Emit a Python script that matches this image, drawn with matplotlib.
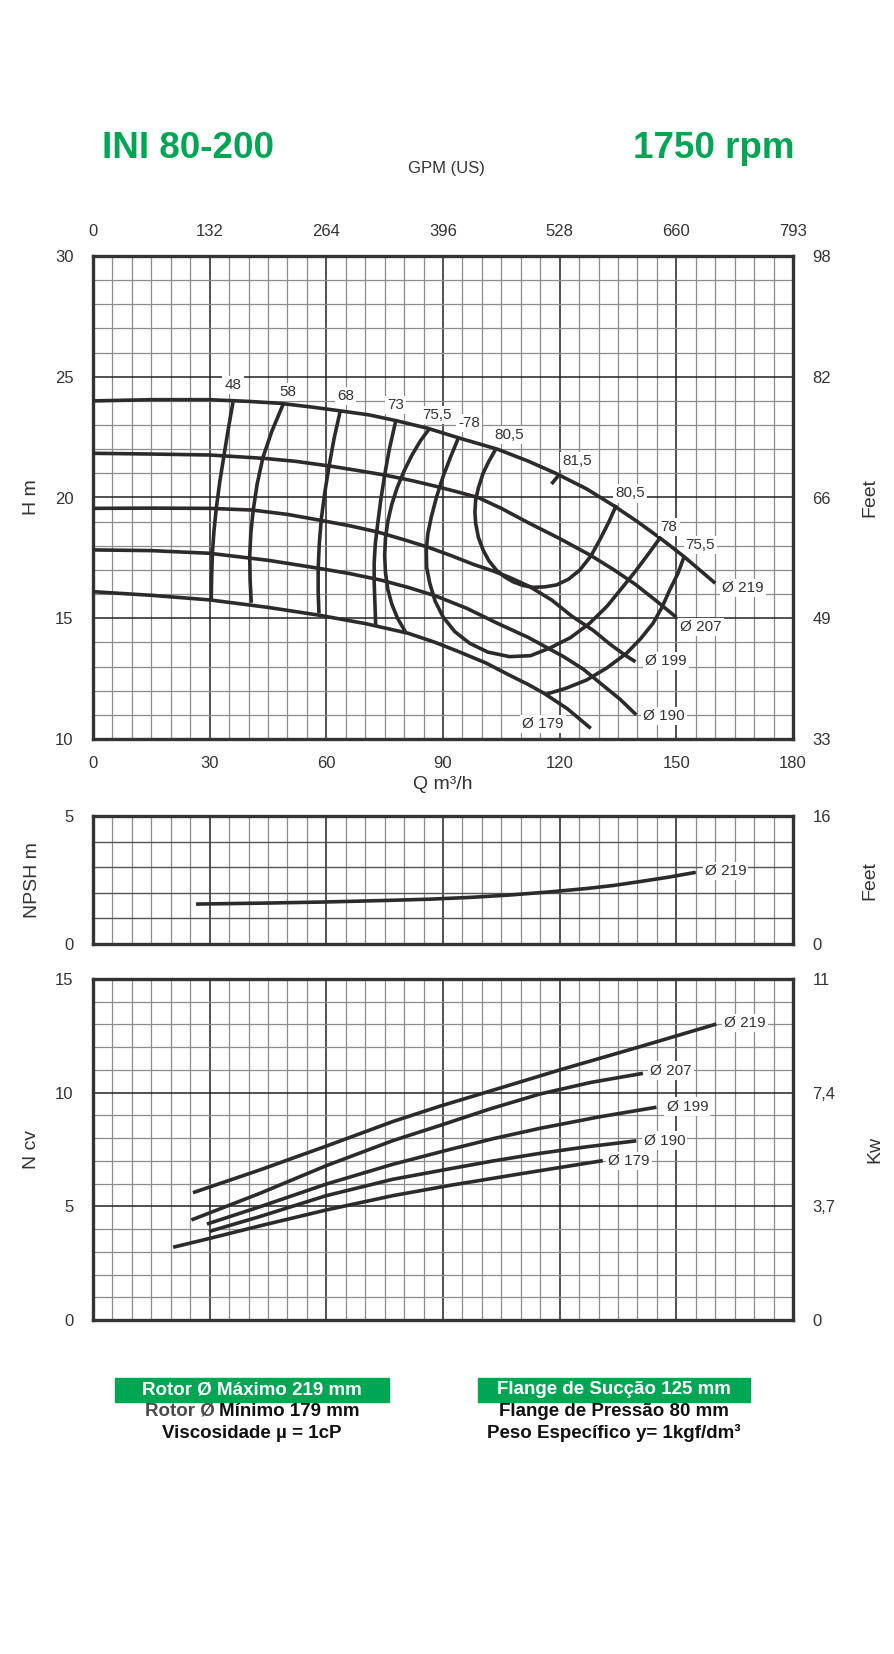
import matplotlib
matplotlib.use('Agg')
import matplotlib.pyplot as plt
from matplotlib import font_manager
from matplotlib.patches import Rectangle

plt.rcParams['font.family'] = ['Liberation Sans', 'DejaVu Sans']

# fonte condensada se existir, senao Liberation Sans um pouco menor
nomes = {f.name for f in font_manager.fontManager.ttflist}
if 'Liberation Sans Narrow' in nomes:
	NARROW = ['Liberation Sans Narrow', 'DejaVu Sans']
	TIT, RODAPE = 30, 14.5
else:
	NARROW = ['Liberation Sans', 'DejaVu Sans']
	TIT, RODAPE = 26.5, 13.5

# ---- altura x vazao (rotores) ----
q219 = [0, 15, 30, 40, 48, 56, 63, 71, 78, 86, 94, 104, 112, 119, 127, 134, 140, 146, 152, 160]
h219 = [24.0, 24.05, 24.05, 23.98, 23.9, 23.75, 23.6, 23.42, 23.18, 22.87, 22.47, 22.0, 21.5, 21.0,
		20.35, 19.65, 19.0, 18.3, 17.55, 16.45]
q207 = [0, 15, 30, 44, 52, 61, 68, 75, 82, 88, 94, 99, 105, 112, 120, 128, 134, 139.5, 145, 150]
h207 = [21.83, 21.8, 21.76, 21.62, 21.5, 21.3, 21.12, 20.93, 20.7, 20.47, 20.22, 20.0, 19.55, 18.95,
		18.3, 17.6, 17.0, 16.4, 15.7, 15.04]
q199 = [0, 15, 30, 41, 50, 58, 66, 73, 80, 86, 92, 98, 103, 107, 112.3, 118, 123, 128.6, 133, 137, 139.5]
h199 = [19.55, 19.56, 19.55, 19.48, 19.3, 19.07, 18.83, 18.58, 18.25, 17.95, 17.6, 17.22, 16.95, 16.7,
		16.31, 15.75, 15.1, 14.5, 13.92, 13.45, 13.2]
q190 = [0, 15, 30, 45, 58, 66, 74, 81, 88, 96, 104, 112, 121, 126, 131, 135.5, 139.7]
h190 = [17.83, 17.8, 17.69, 17.4, 17.07, 16.85, 16.58, 16.28, 15.93, 15.42, 14.79, 14.2, 13.41, 12.9,
		12.24, 11.65, 11.0]
q179 = [0, 15, 30, 45, 58, 70, 81, 88, 94, 101, 107, 112, 116, 122, 128]
h179 = [16.1, 15.95, 15.76, 15.45, 15.13, 14.78, 14.38, 14.0, 13.62, 13.15, 12.65, 12.25, 11.89, 11.25, 10.44]

rotores = ['Ø 219', 'Ø 207', 'Ø 199', 'Ø 190', 'Ø 179']
rot_lbl_q = [161.8, 151.0, 142.0, 141.5, 110.3]
rot_lbl_h = [16.24, 14.65, 13.23, 10.95, 10.62]

# ---- curvas de rendimento ----
e48_q = [36, 34.8, 33.7, 32.6, 31.7, 31.1, 30.7, 30.5, 30.4]
e48_h = [23.95, 22.85, 21.76, 20.65, 19.55, 18.6, 17.69, 16.7, 15.76]
e58_q = [49.0, 46.0, 43.7, 42.2, 41.2, 40.6, 40.3, 40.4, 40.7]
e58_h = [23.9, 22.75, 21.66, 20.55, 19.48, 18.55, 17.6, 16.6, 15.64]
e68_q = [63.6, 62.0, 60.7, 59.6, 58.7, 58.2, 57.9, 57.9, 58.1]
e68_h = [23.6, 22.45, 21.3, 20.2, 19.1, 18.1, 17.07, 16.1, 15.2]
e73_q = [77.8, 76.2, 75.0, 74.0, 73.2, 72.6, 72.3, 72.3, 72.5, 72.7]
e73_h = [23.14, 22.0, 20.93, 19.9, 18.9, 18.1, 17.3, 16.5, 15.6, 14.68]
e755a_q = [86.6, 84.2, 82.0, 80.0, 78.2, 76.8, 75.8, 75.2, 75.0, 75.2, 75.8, 76.8, 78.3, 80.4]
e755a_h = [22.87, 22.35, 21.75, 21.1, 20.4, 19.7, 19.0, 18.3, 17.6, 16.9, 16.2, 15.6, 15.0, 14.42]
e78_q = [94.1, 92.0, 90.0, 88.3, 87.0, 86.1, 85.7, 85.8, 86.6, 88.0, 90.0, 93.0, 96.9, 101.5, 107.1,
		 112.5, 117.4, 122.8, 127.7, 132.2, 136.3, 139.5, 142.3, 145.7]
e78_h = [22.52, 21.7, 20.86, 20.0, 19.2, 18.5, 17.83, 17.1, 16.45, 15.7, 15.06, 14.45, 13.96, 13.6,
		 13.41, 13.45, 13.76, 14.2, 14.79, 15.5, 16.31, 16.95, 17.55, 18.3]
e805_q = [103.7, 101.8, 100.3, 99.1, 98.4, 98.2, 98.4, 99.1, 100.3, 101.8, 103.7, 105.8, 108.0, 110.5,
		  113.1, 116.2, 119.2, 122.3, 125.2, 128.0, 130.3, 132.6, 134.6]
e805_h = [22.04, 21.5, 21.0, 20.4, 19.9, 19.4, 18.93, 18.35, 17.83, 17.38, 17.0, 16.72, 16.51, 16.36,
		  16.28, 16.3, 16.38, 16.62, 17.0, 17.57, 18.24, 18.97, 19.69]
e815_q = [117.9, 120.0]
e815_h = [20.56, 20.97]
e755b_q = [152.0, 150.4, 148.3, 146.3, 144.0, 140.8, 137.2, 132.2, 126.9, 121.6, 116.6]
e755b_h = [17.55, 16.85, 16.17, 15.45, 14.79, 14.15, 13.55, 12.95, 12.44, 12.1, 11.86]

rend_txt = ['48', '58', '68', '73', '75,5', '-78', '80,5', '81,5', '80,5', '78', '75,5']
rend_q = [36, 50.1, 65, 77.8, 88.4, 96.7, 107.1, 124.4, 138.2, 148.1, 156.2]
rend_h = [24.66, 24.38, 24.2, 23.83, 23.42, 23.07, 22.59, 21.52, 20.17, 18.79, 18.03]

# ---- NPSH ----
npsh_q = [26.5, 45, 59.3, 75, 86.4, 97, 106.8, 117, 127.1, 134, 140.7, 148, 155.0]
npsh_v = [1.56, 1.6, 1.64, 1.7, 1.75, 1.82, 1.91, 2.03, 2.17, 2.29, 2.44, 2.61, 2.8]

# ---- potencia ----
pq219 = [25.7, 42.9, 60, 77.1, 89.1, 105, 120, 140.6, 160.3]
pv219 = [5.6, 6.6, 7.65, 8.73, 9.4, 10.22, 11.0, 12.02, 13.02]
pq207 = [25.3, 42.9, 60, 77.1, 89.1, 102, 114.9, 128, 141.4]
pv207 = [4.4, 5.57, 6.79, 7.89, 8.55, 9.28, 9.94, 10.45, 10.85]
pq199 = [29.3, 42.9, 60, 77.1, 91.7, 103, 114.9, 130, 144.9]
pv199 = [4.22, 4.98, 5.98, 6.85, 7.5, 7.98, 8.43, 8.93, 9.36]
pq190 = [29.8, 42.9, 60, 77.1, 91.7, 103, 114.9, 127, 139.7]
pv190 = [3.89, 4.55, 5.47, 6.19, 6.65, 7.0, 7.33, 7.62, 7.88]
pq179 = [20.6, 30, 42.9, 60, 77.1, 91.7, 110.6, 131.1]
pv179 = [3.2, 3.59, 4.14, 4.84, 5.47, 5.92, 6.45, 7.01]

pot_lbl_q = [162.2, 143.3, 147.5, 141.6, 132.5]
pot_lbl_v = [13.05, 10.97, 9.39, 7.89, 7.01]

# eixos auxiliares
gpm = ['0', '132', '264', '396', '528', '660', '793']
feet_h = ['33', '49', '66', '82', '98']
kw = ['0', '3,7', '7,4', '11']

CURVA = '#2d2a2b'
VERDE = '#00a651'
W, H = 895.0, 1654.0


def box(left, top, right, bottom):
	return [left / W, 1 - bottom / H, (right - left) / W, (bottom - top) / H]


def grade(ax, ymin, ymax, ystep_major):
	ax.set_xlim(0, 180)
	ax.set_ylim(ymin, ymax)
	ax.set_xticks(range(0, 181, 30))
	ax.set_xticks(range(0, 181, 5), minor=True)
	ax.set_yticks(range(ymin, ymax + 1, ystep_major))
	ax.set_yticks(range(ymin, ymax + 1, 1), minor=True)
	ax.grid(which='major', color='#222222', lw=1.1)
	ax.grid(which='minor', color='#8c8c8c', lw=0.9)
	ax.set_axisbelow(True)
	ax.tick_params(which='both', length=0, labelsize=12, colors='#333333')
	ax.tick_params(axis='y', pad=14)
	for s in ax.spines.values():
		s.set_linewidth(2.4)
		s.set_color('#333333')


def eixo_dir(ax, ylim, ticks, labels, nome):
	a = ax.twinx()
	a.set_ylim(*ylim)
	a.set_yticks(ticks)
	a.set_yticklabels(labels)
	a.tick_params(length=0, labelsize=12, pad=14, colors='#333333')
	a.set_ylabel(nome, fontsize=14, labelpad=22, color='#333333')
	for s in a.spines.values():
		s.set_visible(False)
	return a


def rotulo(ax, x, y, s, ha='left'):
	ax.text(x, y, s, fontsize=11, ha=ha, va='center', color='#333333',
			bbox=dict(facecolor='white', edgecolor='none', pad=1.5), zorder=4)


fig = plt.figure(figsize=(W / 100, H / 100), dpi=100)

# ================= H x Q =================
ax = fig.add_axes(box(93, 256, 793, 739))
grade(ax, 10, 30, 5)
ax.tick_params(axis='x', pad=12)
for q, h in [(q219, h219), (q207, h207), (q199, h199), (q190, h190), (q179, h179)]:
	ax.plot(q, h, color=CURVA, lw=2.6, solid_joinstyle='round', solid_capstyle='butt', zorder=3)
for q, h in [(e48_q, e48_h), (e58_q, e58_h), (e68_q, e68_h), (e73_q, e73_h),
			 (e755a_q, e755a_h), (e78_q, e78_h), (e805_q, e805_h), (e815_q, e815_h),
			 (e755b_q, e755b_h)]:
	ax.plot(q, h, color=CURVA, lw=2.6, solid_joinstyle='round', solid_capstyle='butt', zorder=3)
for t, x, y in zip(rend_txt, rend_q, rend_h):
	rotulo(ax, x, y, t, ha='center')
for t, x, y in zip(rotores, rot_lbl_q, rot_lbl_h):
	rotulo(ax, x, y, t)
ax.set_xlabel('Q m³/h', fontsize=14, labelpad=4, color='#333333')
ax.set_ylabel('H m', fontsize=14, labelpad=11, color='#333333')

ax_t = ax.twiny()
ax_t.set_xlim(0, 180)
ax_t.set_xticks(range(0, 181, 30))
ax_t.set_xticklabels(gpm)
ax_t.tick_params(length=0, labelsize=12, pad=12, colors='#333333')
for s in ax_t.spines.values():
	s.set_visible(False)
eixo_dir(ax, (10, 30), range(10, 31, 5), feet_h, 'Feet')

# ================= NPSH =================
ax2 = fig.add_axes(box(93, 816, 793, 944))
grade(ax2, 0, 5, 5)
ax2.grid(which='minor', axis='y', color='#555555', lw=1.0)
ax2.tick_params(axis='x', labelbottom=False)
ax2.plot(npsh_q, npsh_v, color=CURVA, lw=2.6, solid_capstyle='butt', zorder=3)
rotulo(ax2, 157.3, 2.84, 'Ø 219')
ax2.set_ylabel('NPSH m', fontsize=14, labelpad=17, color='#333333')
eixo_dir(ax2, (0, 5), [0, 5], ['0', '16'], 'Feet')

# ================= Potencia =================
ax3 = fig.add_axes(box(93, 979, 793, 1320))
grade(ax3, 0, 15, 5)
ax3.tick_params(axis='x', labelbottom=False)
for q, v in [(pq219, pv219), (pq207, pv207), (pq199, pv199), (pq190, pv190), (pq179, pv179)]:
	ax3.plot(q, v, color=CURVA, lw=2.6, solid_joinstyle='round', solid_capstyle='butt', zorder=3)
for t, x, y in zip(rotores, pot_lbl_q, pot_lbl_v):
	rotulo(ax3, x, y, t)
ax3.set_ylabel('N cv', fontsize=14, labelpad=11, color='#333333')
eixo_dir(ax3, (0, 15), [0, 5, 10, 15], kw, 'Kw')

# ================= textos =================
fig.text(102 / W, 1 - 148 / H, 'INI 80-200', family=NARROW, fontsize=TIT, fontweight='bold',
		 color=VERDE, ha='left', va='center')
fig.text(795 / W, 1 - 148 / H, '1750 rpm', family=NARROW, fontsize=TIT, fontweight='bold',
		 color=VERDE, ha='right', va='center')
fig.text(446 / W, 1 - 169 / H, 'GPM (US)', family=NARROW, fontsize=12, color='#333333',
		 ha='center', va='center')

fig.patches.append(Rectangle((115 / W, 1 - 1402 / H), 274 / W, 24 / H,
							 transform=fig.transFigure, color=VERDE, zorder=0))
fig.patches.append(Rectangle((478 / W, 1 - 1402 / H), 272 / W, 24 / H,
							 transform=fig.transFigure, color=VERDE, zorder=0))
col1 = ['Rotor Ø Máximo 219 mm', None, 'Viscosidade µ = 1cP']
col2 = ['Flange de Sucção 125 mm', 'Flange de Pressão 80 mm', 'Peso Específico y= 1kgf/dm³']
estilo = dict(family=NARROW, fontsize=RODAPE, fontweight='bold', va='center')
for i, (a, b) in enumerate(zip(col1, col2)):
	cor = 'white' if i == 0 else '#111111'
	y = 1 - (1390 + 21.5 * i) / H
	if a:
		fig.text(252 / W, y, a, color=cor, ha='center', **estilo)
	fig.text(614 / W, y, b, color=cor, ha='center', **estilo)

# linha 2 da coluna 1: "Rotor Ø" em cinza, resto em preto
y2 = 1 - (1390 + 21.5) / H
ta = fig.text(0, y2, 'Rotor Ø', color='#4a4a4a', ha='left', **estilo)
tb = fig.text(0, y2, 'Mínimo 179 mm', color='#111111', ha='left', **estilo)
r = fig.canvas.get_renderer()
wa = ta.get_window_extent(r).width
wb = tb.get_window_extent(r).width
esp = 4.5
x0 = 252 - (wa + esp + wb) / 2
ta.set_x(x0 / W)
tb.set_x((x0 + wa + esp) / W)

fig.savefig('out.png', dpi=100)
